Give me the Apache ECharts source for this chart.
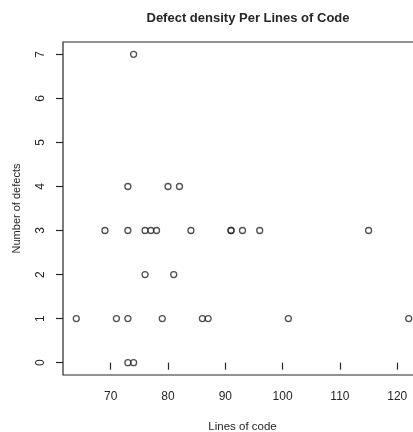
<!DOCTYPE html>
<html>
<head>
<meta charset="utf-8">
<script src="https://cdn.jsdelivr.net/npm/echarts@6/dist/echarts.min.js"></script>
<style>
  html, body { margin: 0; padding: 0; background: #fff; }
  #chart { width: 413px; height: 432px; }
</style>
</head>
<body>
<div id="chart"></div>
<script>
// Lines of code per module and the defects found in it
const linesOfCode = [74, 73, 80, 82, 69, 73, 76, 77, 78, 84, 91, 91, 93, 96, 115,
                     76, 81, 64, 71, 73, 79, 86, 87, 101, 122, 73, 74];
const defects     = [7, 4, 4, 4, 3, 3, 3, 3, 3, 3, 3, 3, 3, 3, 3,
                     2, 2, 1, 1, 1, 1, 1, 1, 1, 1, 0, 0];
const xTicks = [70, 80, 90, 100, 110, 120];
const yTicks = [0, 1, 2, 3, 4, 5, 6, 7];

const points = linesOfCode.map((x, i) => [x, defects[i]]);

// axis ranges padded by 4% on each side
function padded(values) {
  const lo = Math.min(...values), hi = Math.max(...values);
  const pad = (hi - lo) * 0.04;
  return [lo - pad, hi + pad];
}
const [xMin, xMax] = padded(linesOfCode);
const [yMin, yMax] = padded(defects);

const ink = '#262626';
const font = 'Liberation Sans, Arial, sans-serif';

const chart = echarts.init(document.getElementById('chart'), null, { renderer: 'canvas' });
chart.setOption({
  animation: false,
  backgroundColor: '#fff',
  title: {
    text: 'Defect density Per Lines of Code',
    left: 243,
    top: 7,
    textAlign: 'center',
    textStyle: { fontFamily: font, fontSize: 13, fontWeight: 'bold', color: ink }
  },
  grid: {
    left: 63, top: 42, width: 359, height: 333,
    containLabel: false, outerBoundsMode: 'none',
    show: true, borderColor: ink, borderWidth: 1.2, backgroundColor: 'transparent'
  },
  xAxis: {
    type: 'value', min: xMin, max: xMax,
    splitLine: { show: false },
    axisLine: { show: false },
    axisTick: { show: true, customValues: xTicks, length: 7, lineStyle: { color: ink, width: 1.2 } },
    axisLabel: { customValues: xTicks, margin: 16, color: ink, fontFamily: font, fontSize: 12 },
    name: 'Lines of code', nameLocation: 'middle', nameGap: 46,
    nameTextStyle: { color: ink, fontFamily: font, fontSize: 11.5 }
  },
  yAxis: {
    type: 'value', min: yMin, max: yMax,
    splitLine: { show: false },
    axisLine: { show: false },
    axisTick: { show: true, customValues: yTicks, length: 7, lineStyle: { color: ink, width: 1.2 } },
    axisLabel: { customValues: yTicks, rotate: 90, margin: 16, color: ink, fontFamily: font, fontSize: 12 },
    name: 'Number of defects', nameLocation: 'middle', nameGap: 41,
    nameTextStyle: { color: ink, fontFamily: font, fontSize: 11 }
  },
  series: [{
    type: 'scatter',
    data: points,
    symbol: 'circle',
    symbolSize: 6,
    itemStyle: { color: 'rgba(255,255,255,0)', borderColor: ink, borderWidth: 1.3 }
  }]
});
</script>
</body>
</html>
